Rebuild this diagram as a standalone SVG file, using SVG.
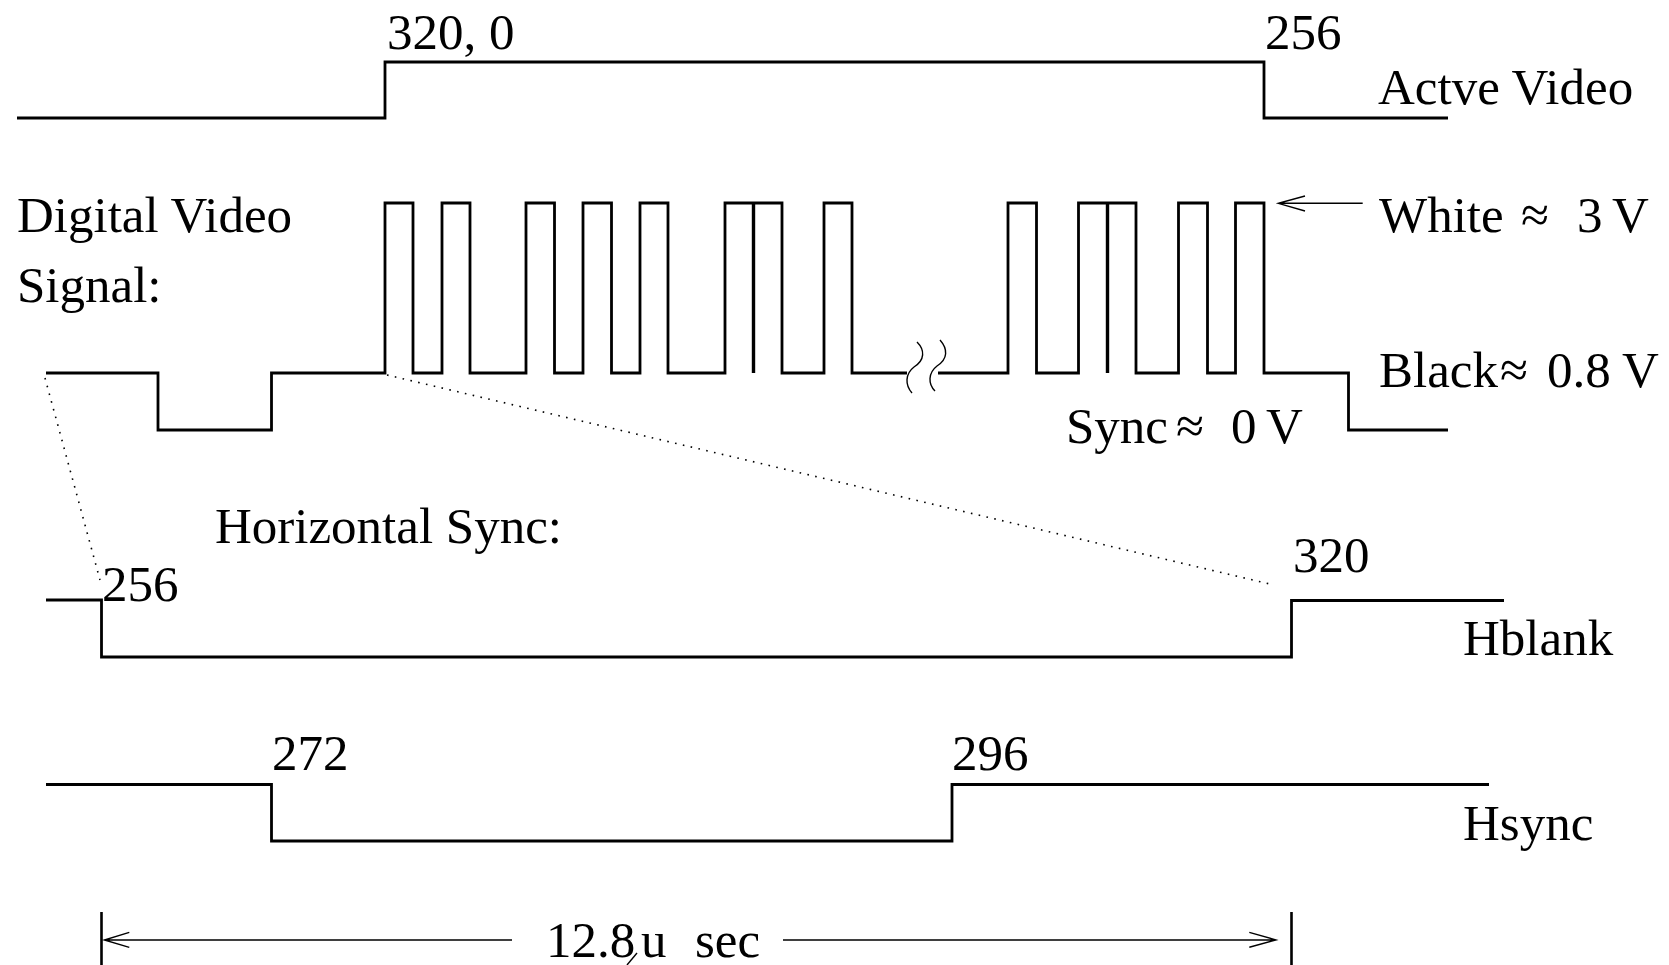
<svg xmlns="http://www.w3.org/2000/svg" width="1669" height="965" viewBox="0 0 1669 965">
<style>
  .sig{fill:none;stroke:#000;stroke-width:2.8;stroke-linejoin:miter;stroke-linecap:butt}
  .mid{fill:none;stroke:#000;stroke-width:3.4}
  .thin{fill:none;stroke:#000;stroke-width:1.4}
  .dot{fill:none;stroke:#000;stroke-width:1.6;stroke-dasharray:1.6 6.4}
  .tick{fill:none;stroke:#000;stroke-width:2.6}
  text{font-family:"Liberation Serif","Times New Roman",serif;font-size:51px;fill:#000}
</style>
<rect width="1669" height="965" fill="#fff"/>
<g id="active-video">
  <path class="sig" d="M17,118 H385 V62 H1264 V118 H1448"/>
  <text x="387" y="48.5">320, 0</text>
  <text x="1265" y="48.5">256</text>
  <text x="1378" y="103.5">Actve Video</text>
</g>
<g id="digital-video">
  <text x="17" y="232">Digital Video</text>
  <text x="17" y="302">Signal:</text>
  <path class="sig" d="M46,373 H158 V430 H271.5 V373 H385 V203 H413 V373 H442 V203 H470 V373 H526 V203 H554.5 V373 H583 V203 H611.5 V373 H640 V203 H668 V373 H725 V203 H782 V373 H824 V203 H852 V373 H907"/>
  <path class="sig" d="M938,373 H1008 V203 H1036.5 V373 H1078.5 V203 H1136 V373 H1178.5 V203 H1207.5 V373 H1235.5 V203 H1264 V373 H1348.5 V430 H1448"/>
  <path class="mid" d="M753.5,203 V373 M1107.5,203 V373"/>
  <path class="thin" d="M917,342 C925,350 925,360 914,367 C905,374 905,385 912,393 M940,340 C948,349 948,359 937,366 C928,373 928,384 935,391"/>
  <text x="1066" y="443"><tspan>Sync</tspan><tspan x="1176">≈</tspan><tspan x="1231">0</tspan><tspan x="1266">V</tspan></text>
</g>
<g id="levels">
  <path class="thin" d="M1278.3,203.3 H1362.7 M1305,196 L1278.3,203.3 L1305,211"/>
  <text x="1379" y="232"><tspan>White</tspan><tspan x="1521">≈</tspan><tspan x="1577">3</tspan><tspan x="1612">V</tspan></text>
  <text x="1379" y="387"><tspan>Black</tspan><tspan x="1500">≈</tspan><tspan x="1547">0.8</tspan><tspan x="1622">V</tspan></text>
</g>
<g id="connectors">
  <path class="dot" d="M45,378 L100,580"/>
  <path class="dot" d="M387,375 L1274,585"/>
</g>
<g id="hblank">
  <text x="215" y="543">Horizontal Sync:</text>
  <path class="sig" d="M46,600 H101.5 V657 H1291.5 V600.5 H1504"/>
  <text x="102" y="601">256</text>
  <text x="1293" y="572">320</text>
  <text x="1463" y="655">Hblank</text>
</g>
<g id="hsync">
  <path class="sig" d="M46,784.5 H271.5 V841 H952 V784.5 H1489"/>
  <text x="272" y="770">272</text>
  <text x="952" y="770">296</text>
  <text x="1463" y="839.5">Hsync</text>
</g>
<g id="period">
  <path class="tick" d="M101.5,912 V965 M1291.5,912 V965"/>
  <path class="thin" d="M104,940 H512 M783,940 H1276 M129.3,932.3 L104.3,940 L129.3,947.3 M1249.3,932.3 L1276,940 L1249.3,947.3"/>
  <text x="546" y="957"><tspan>12.8</tspan><tspan x="641">u</tspan><tspan x="695">sec</tspan></text>
  <path class="thin" d="M627,965 L637,953"/>
</g>
</svg>
